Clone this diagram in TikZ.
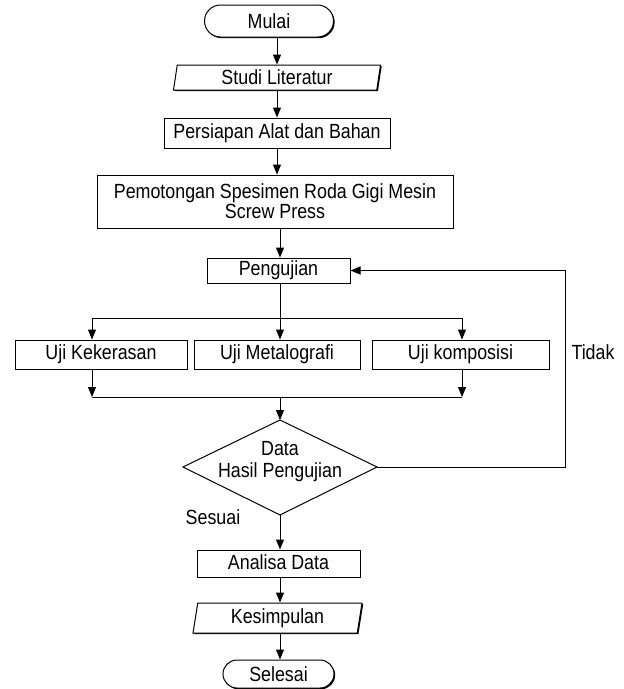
\documentclass[tikz,border=0pt]{standalone}
\usepackage{fontspec}
\setmainfont{Liberation Sans}
\newfontfamily\narrowfont{Liberation Sans}[FakeStretch=0.87]
\usetikzlibrary{shapes.geometric,shapes.misc,arrows.meta,shadows}
\begin{document}
\begin{tikzpicture}[x=1pt,y=-1pt,
  every node/.style={font=\narrowfont\fontsize{20.5}{20}\selectfont, inner sep=0pt},
  shad/.style={drop shadow={shadow xshift=1.2pt,shadow yshift=-1.2pt,fill=black,opacity=1}},
  box/.style={draw, line width=1pt, fill=white, rectangle, shad},
  term/.style={draw, line width=1pt, fill=white, rounded rectangle, shad},
  io/.style={draw, line width=1pt, fill=white, trapezium, trapezium left angle=76, trapezium right angle=104, trapezium stretches body, shad},
  arr/.style={line width=1pt, -{Triangle[length=10pt,width=8pt]}},
  ln/.style={line width=1pt},
  lbl/.style={font=\narrowfont\fontsize{20.5}{20}\selectfont}]
\useasboundingbox (0,0) rectangle (624,689);

\node[term, minimum width=129pt, minimum height=32pt] (mulai) at (269,21) {Mulai};
\node[io, minimum width=207pt, minimum height=25pt] (studi) at (277,77.5) {Studi Literatur};
\node[box, minimum width=226pt, minimum height=30pt] (persiapan) at (277,133) {Persiapan Alat dan Bahan};
\node[box, minimum width=356pt, minimum height=53pt, align=center] (pemotongan) at (275,201.5) {Pemotongan Spesimen Roda Gigi Mesin\\Screw Press};
\node[box, minimum width=143pt, minimum height=25pt] (pengujian) at (278.5,270.5) {\raisebox{2pt}{Pengujian}};

\node[box, minimum width=172pt, minimum height=29pt] (kekerasan) at (101,354.5) {Uji Kekerasan};
\node[box, minimum width=166pt, minimum height=29pt] (metalografi) at (277,354.5) {Uji Metalografi};
\node[box, minimum width=177pt, minimum height=29pt] (komposisi) at (460.5,354.5) {Uji komposisi};

% decision
\coordinate (dt) at (280,420);
\coordinate (dr) at (377,467);
\coordinate (db) at (280,515);
\coordinate (dl) at (183,467);
\draw[line width=1pt, fill=white] (dt) -- (dr) -- (db) -- (dl) -- cycle;
\node[align=center, font=\narrowfont\fontsize{20.5}{22}\selectfont] (keputusan) at (280,462) {Data\\Hasil Pengujian};

\node[box, minimum width=163pt, minimum height=27pt] (analisa) at (278.5,563.5) {\raisebox{2pt}{Analisa Data}};
\node[io, minimum width=169pt, minimum height=30pt] (kesimpulan) at (277.5,618) {\raisebox{2pt}{Kesimpulan}};
\node[term, minimum width=111pt, minimum height=28pt] (selesai) at (278.5,674) {Selesai};

\node[lbl] (tidak) at (593,352) {Tidak};
\node[lbl] (sesuai) at (213,517) {Sesuai};

% connectors
\draw[arr] (mulai.south -| studi.north) -- (studi.north);
\draw[arr] (studi.south) -- (studi.south |- persiapan.north);
\draw[arr] (persiapan.south) -- (persiapan.south |- pemotongan.north);
\coordinate (pm) at (280,228);
\draw[arr] (pemotongan.south -| pm) -- (pengujian.north -| pm);

\coordinate (j1) at (280,318);
\coordinate (jl) at (92,318);
\coordinate (jr) at (462,318);
\draw[ln] (pengujian.south -| j1) -- (j1);
\draw[ln] (jl) -- (jr);
\draw[arr] (jl) -- (jl |- kekerasan.north);
\draw[arr] (j1) -- (j1 |- metalografi.north);
\draw[arr] (jr) -- (jr |- komposisi.north);

\coordinate (bl) at (92,397);
\coordinate (br) at (462,397);
\coordinate (bm) at (280,397);
\draw[arr] (kekerasan.south -| bl) -- (bl);
\draw[arr] (komposisi.south -| br) -- (br);
\draw[ln] (bl) -- (br);
\draw[arr] (bm) -- (dt);

\coordinate (tr) at (565,467);
\draw[arr] (dr) -- (tr) -- (tr |- pengujian.east) -- (pengujian.east);

\draw[arr] (db) -- (analisa.north -| db);
\draw[arr] (analisa.south -| db) -- (kesimpulan.north -| db);
\draw[arr] (kesimpulan.south -| db) -- (selesai.north -| db);
\end{tikzpicture}
\end{document}
